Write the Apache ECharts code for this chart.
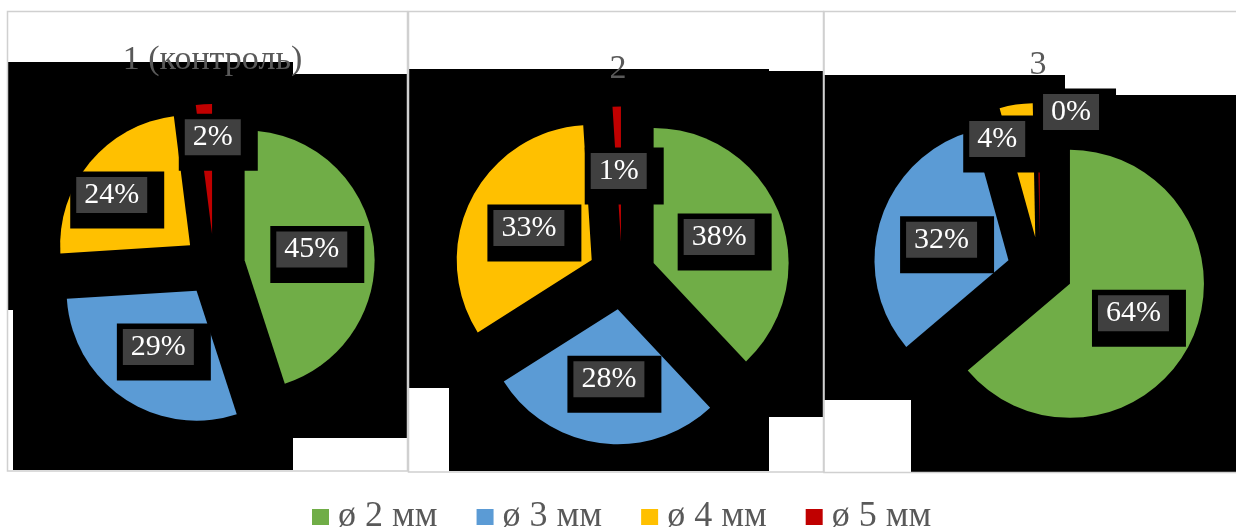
<!DOCTYPE html>
<html>
<head>
<meta charset="utf-8">
<script src="https://cdn.jsdelivr.net/npm/echarts@6/dist/echarts.min.js"></script>
<style>
html,body{margin:0;padding:0;background:#fff;}
#chart{width:1236px;height:530px;}
</style>
</head>
<body>
<div id="chart"></div>
<script>
// ---- data ----
const categories = ['ø 2 мм', 'ø 3 мм', 'ø 4 мм', 'ø 5 мм'];
const panelTitles = ['1 (контроль)', '2', '3'];
const values1 = [45, 29, 24, 2];
const values2 = [38, 28, 33, 1];
const values3 = [64, 32, 4, 0.3];
const colors = ['#70AD47', '#5B9BD5', '#FFC000', '#C00000'];

// ---- layout (pixels) ----
const FONT = '"Liberation Serif", "Times New Roman", serif';
const pies = [
  { values: values1, center: [214, 265], r: 130, off: 31, title: [212.5, 60],
    nudge: { 2: [-26, -7], 3: [5, -29] } },
  { values: values2, center: [622, 275.5], r: 135, off: 34, title: [618, 69],
    nudge: {} },
  { values: values3, center: [1040, 270], r: 134, off: 33, title: [1038, 65],
    nudge: { 2: [-28, -29], 3: [32, -55] } }
];

const blackRects = [
  // panel 1
  [8, 62, 237, 248], [13, 74, 394, 364], [13, 62, 280, 408],
  // panel 2
  [408, 69, 241, 319], [449, 71, 374, 346], [449, 69, 320, 402],
  // panel 3
  [824, 75, 241, 325], [824, 95, 412, 305], [911, 95, 325, 377], [911, 75, 154, 397]
];
const borders = [[7.5, 11.5, 400, 459.5], [408.5, 11.5, 415, 460.5], [824, 11.5, 420, 461]];

const graphics = [];
blackRects.forEach(b => graphics.push({
  type: 'rect', z: 0, silent: true,
  shape: { x: b[0], y: b[1], width: b[2], height: b[3] },
  style: { fill: '#000' }
}));
borders.forEach(b => graphics.push({
  type: 'rect', z: 5, silent: true,
  shape: { x: b[0], y: b[1], width: b[2], height: b[3] },
  style: { fill: 'none', stroke: '#d0d0d0', lineWidth: 1.5 }
}));
pies.forEach((p, i) => graphics.push({
  type: 'text', z: 6, silent: true,
  style: { text: panelTitles[i], x: p.title[0], y: p.title[1], textAlign: 'center',
    textVerticalAlign: 'middle', fill: '#595959', font: '34px ' + FONT }
}));

const series = pies.map((p, i) => ({
  type: 'pie',
  name: panelTitles[i],
  center: p.center,
  radius: p.r,
  startAngle: 90,
  clockwise: true,
  selectedMode: 'multiple',
  selectedOffset: p.off,
  percentPrecision: 0,
  avoidLabelOverlap: false,
  emphasis: { scale: false, disabled: true },
  select: { itemStyle: { borderWidth: 0 } },
  itemStyle: { borderWidth: 0 },
  labelLine: { show: false },
  label: {
    show: true,
    position: 'inside',
    backgroundColor: '#000',
    padding: [6, 17, 16, 6],
    formatter: params => '{g|' + params.percent + '%}',
    rich: {
      g: { backgroundColor: '#404040', color: '#ffffff', fontSize: 30, fontFamily: FONT,
           padding: [3, 8, 3, 8], lineHeight: 35 }
    }
  },
  labelLayout: params => {
    const n = p.nudge[params.dataIndex] || [0, 0];
    return { dx: 5.5 + n[0], dy: 5 + n[1] };
  },
  data: p.values.map((v, k) => ({ name: categories[k], value: v, selected: true }))
}));

const chart = echarts.init(document.getElementById('chart'), null, { renderer: 'canvas' });
chart.setOption({
  animation: false,
  color: colors,
  backgroundColor: '#fff',
  graphic: { elements: graphics },
  legend: {
    data: categories,
    left: 312,
    top: 499,
    padding: 0,
    icon: 'rect',
    itemWidth: 17,
    itemHeight: 16,
    itemGap: 39,
    selectedMode: false,
    textStyle: { fontFamily: FONT, fontSize: 36, color: '#595959', padding: [0, 0, 0, 4] }
  },
  series: series
});
</script>
</body>
</html>
